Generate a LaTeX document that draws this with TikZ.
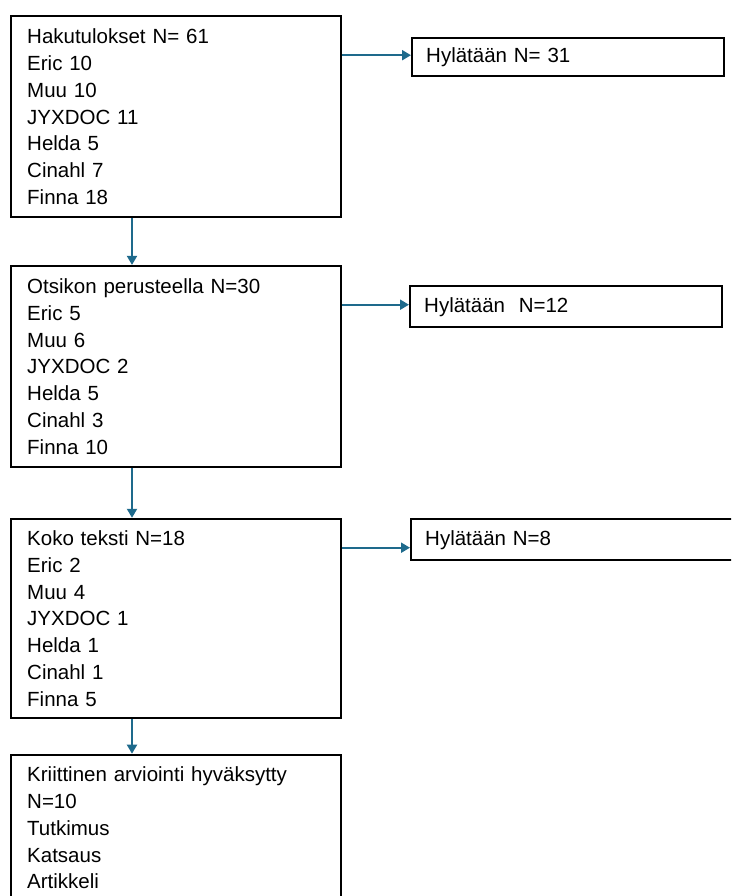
\documentclass[tikz,border=0pt]{standalone}
\usepackage{fontspec}
\setmainfont{Liberation Sans}
\usepackage{xcolor}
\usetikzlibrary{arrows.meta,positioning}

\definecolor{arrowblue}{HTML}{1E6A8C}

\begin{document}
\begin{tikzpicture}[
    x=1pt, y=-1pt,
    mainbox/.style={rectangle, draw=black, line width=2.4pt, fill=white, minimum width=330pt, text width=298pt, inner xsep=16pt, align=left, font=\fontsize{20.5}{26.8}\selectfont},
    rejectbox/.style={rectangle, draw=black, line width=2.4pt, fill=white, anchor=north west, minimum height=38pt, text width=284pt, inner xsep=14pt, align=left, font=\fontsize{20.5}{24}\selectfont},
    arrow/.style={-{Triangle[width=10pt,length=9pt]}, draw=arrowblue, line width=2pt}
]
    \useasboundingbox (0,0) rectangle (731,896);
    \clip (0,0) rectangle (731,896);

    % Search stages
    \node[mainbox, anchor=north west, minimum height=201pt] (search) at (10,15) {Hakutulokset N= 61\\Eric 10\\Muu 10\\JYXDOC 11\\Helda 5\\Cinahl 7\\Finna 18};
    \node[mainbox, below=46.5pt of search, minimum height=201pt] (title) {Otsikon perusteella N=30\\Eric 5\\Muu 6\\JYXDOC 2\\Helda 5\\Cinahl 3\\Finna 10};
    \node[mainbox, below=49.5pt of title, minimum height=199pt] (fulltext) {Koko teksti N=18\\Eric 2\\Muu 4\\JYXDOC 1\\Helda 1\\Cinahl 1\\Finna 5};
    \node[mainbox, below=34.5pt of fulltext, minimum height=146pt] (accepted) {Kriittinen arviointi hyväksytty\\N=10\\Tutkimus\\Katsaus\\Artikkeli};

    % Rejected
    \node[rejectbox, minimum width=311pt] (rejsearch) at (411,37) {Hylätään N= 31};
    \node[rejectbox, minimum width=310pt, minimum height=41pt] (rejtitle) at (409,285) {Hylätään\ \ N=12};
    \node[rejectbox, text width=302pt, minimum height=41pt] (rejfull) at (410,518) {Hylätään N=8};

    % Arrows
    \draw[arrow] ([xshift=122pt]search.south west) -- ([xshift=122pt]title.north west);
    \draw[arrow] ([xshift=122pt]title.south west) -- ([xshift=122pt]fulltext.north west);
    \draw[arrow] ([xshift=122pt]fulltext.south west) -- ([xshift=122pt]accepted.north west);
    \draw[arrow] ([yshift=2pt]rejsearch.west -| search.east) -- ([yshift=2pt]rejsearch.west);
    \draw[arrow] ([yshift=2pt]rejtitle.west -| title.east) -- ([yshift=2pt]rejtitle.west);
    \draw[arrow] ([yshift=-8pt]rejfull.west -| fulltext.east) -- ([yshift=-8pt]rejfull.west);
\end{tikzpicture}
\end{document}
